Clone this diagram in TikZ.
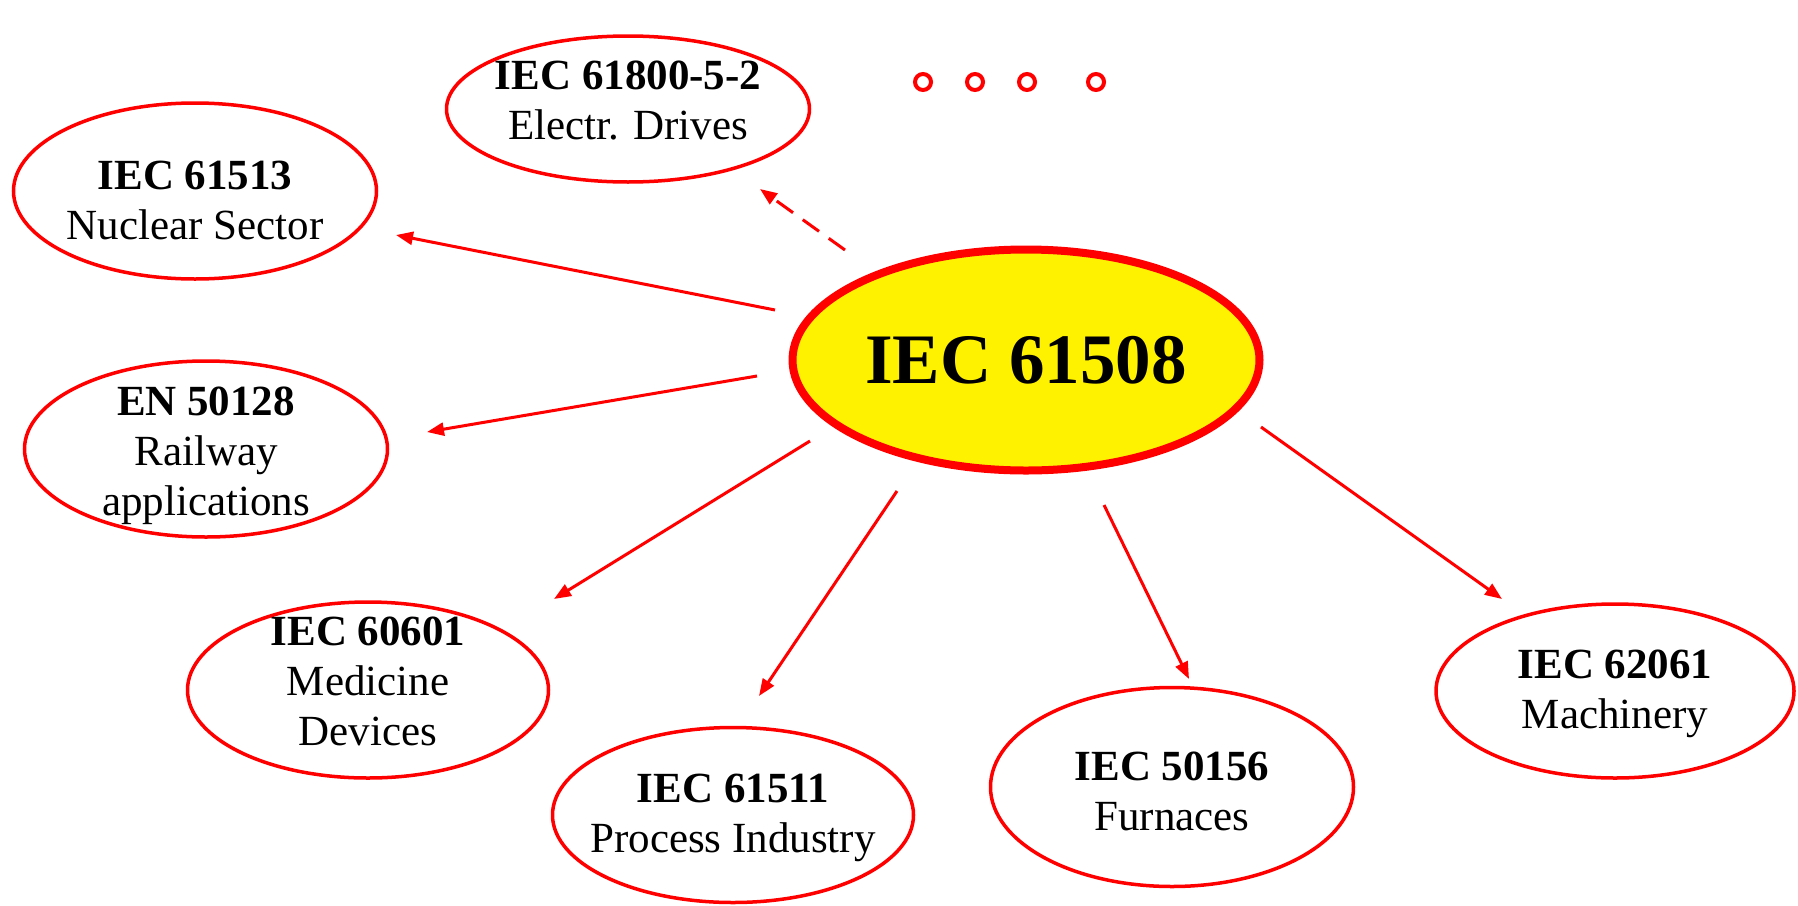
\documentclass[tikz,border=0pt]{standalone}
\usepackage{fontspec}
\setmainfont{Liberation Serif}
\usetikzlibrary{arrows.meta,calc,shapes.geometric}
\begin{document}
\begin{tikzpicture}[x=1pt,y=-1pt,
  box/.style={ellipse,draw=red,line width=3.5pt,inner sep=0pt},
  txt/.style={align=center,inner sep=0pt,font=\fontsize{43}{50}\selectfont,text=black},
  hub/.style={ellipse,draw=red,fill=yellow,line width=8pt,inner sep=0pt,
    font=\fontsize{71}{80}\selectfont\bfseries,text=black},
  arr/.style={draw=red,line width=3pt,-{Triangle[length=17pt,width=13pt]}},
  dasharr/.style={arr,dash pattern=on 20pt off 12pt},
  dot/.style={circle,draw=red,line width=4pt,minimum size=16pt,inner sep=0pt}]
\useasboundingbox (0,0) rectangle (1798,905);
\node[hub,minimum width=467pt,minimum height=221pt] (main) at (1026,360) {IEC 61508};
\node[box,minimum width=363pt,minimum height=146pt] (drv) at (628,109) {};
\node[box,minimum width=363pt,minimum height=176pt] (nuc) at (195,191) {};
\node[box,minimum width=363pt,minimum height=176pt] (rail) at (206,449) {};
\node[box,minimum width=361pt,minimum height=176pt] (med) at (368,690) {};
\node[box,minimum width=361pt,minimum height=175pt] (proc) at (733,815) {};
\node[box,minimum width=363pt,minimum height=199pt] (furn) at (1172,787) {};
\node[box,minimum width=358pt,minimum height=174pt] (mach) at (1615,691) {};
\node[txt] (drvt) at ($(drv)+(0,-8)$) {\textbf{IEC 61800-5-2}\\Electr. Drives};
\node[txt] (nuct) at ($(nuc)+(0,9)$) {\textbf{IEC 61513}\\Nuclear Sector};
\node[txt] (railt) at ($(rail)+(0,7)$) {\textbf{EN 50128}\\Railway\\applications};
\node[txt] (medt) at ($(med)+(0,-9)$) {\textbf{IEC 60601}\\Medicine\\Devices};
\node[txt] (proct) at ($(proc)+(0,3)$) {\textbf{IEC 61511}\\Process Industry};
\node[txt] (furnt) at ($(furn)+(0,4)$) {\textbf{IEC 50156}\\Furnaces};
\node[txt] (macht) at ($(mach)+(0,3)$) {\textbf{IEC 62061}\\Machinery};
\node[dot] (d1) at (923,82) {};
\node[dot] (d2) at (975,82) {};
\node[dot] (d3) at (1027,82) {};
\node[dot] (d4) at (1096,82) {};
\draw[dasharr] ($(main)+(-181,-110)$) -- ($(drv)+(132,80)$);
\draw[arr] ($(main)+(-251,-50)$) -- ($(nuc)+(201,44)$);
\draw[arr] ($(main)+(-269,16)$) -- ($(rail)+(221,-17)$);
\draw[arr] ($(main)+(-216,81)$) -- ($(med)+(186,-91)$);
\draw[arr] ($(main)+(-129,131)$) -- ($(proc)+(26,-119)$);
\draw[arr] ($(main)+(78,145)$) -- ($(furn)+(17,-108)$);
\draw[arr] ($(main)+(235,67)$) -- ($(mach)+(-113,-92)$);
\end{tikzpicture}
\end{document}
